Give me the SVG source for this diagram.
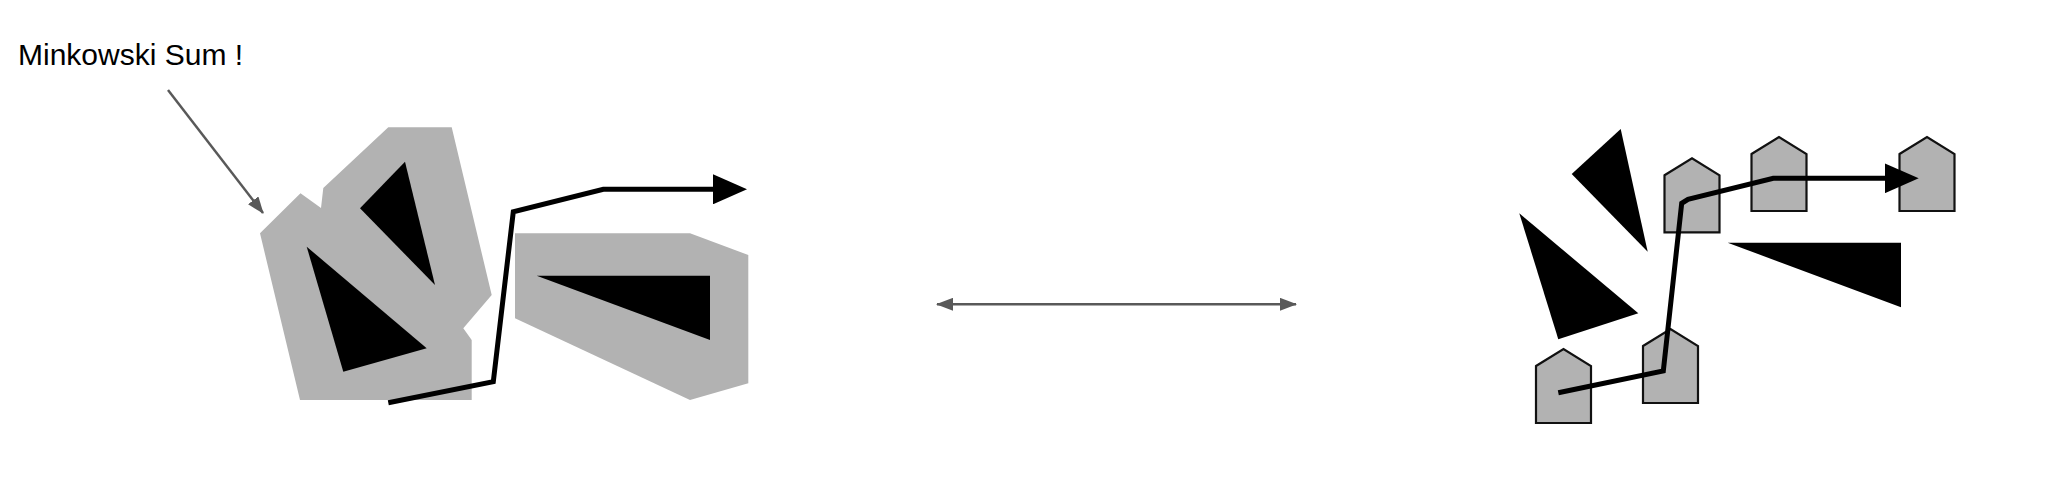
<svg xmlns="http://www.w3.org/2000/svg" width="2060" height="492" viewBox="0 0 2060 492">
<style>
.cs{fill:#b2b2b2;stroke:none}
.ob{fill:#000;stroke:none}
.house{fill:#b2b2b2;stroke:#111;stroke-width:2.2}
.path{fill:none;stroke:#000;stroke-width:5;stroke-linejoin:miter}
.conn{fill:none;stroke:#595959;stroke-width:2.5}
.lbl{font-family:"Liberation Sans",Arial,sans-serif;font-size:30px;fill:#000}
</style>
<defs>
<marker id="ga" markerUnits="userSpaceOnUse" markerWidth="17" markerHeight="13" viewBox="0 0 17 13" refX="16" refY="6.5" orient="auto-start-reverse">
<path d="M0,0 L17,6.5 L0,13 Z" fill="#595959"/>
</marker>
<marker id="ba" markerUnits="userSpaceOnUse" markerWidth="34" markerHeight="30" viewBox="0 0 34 30" refX="2" refY="15" orient="auto">
<path d="M0,0 L34,15 L0,30 Z" fill="#000"/>
</marker>
<polygon id="hs" points="0,17 27.5,0 55,17 55,74 0,74"/>
</defs>

<g id="label">
<text class="lbl" x="18" y="65">Minkowski Sum !</text>
</g>

<g id="left-cspace">
<polygon class="cs" points="388.3,127.3 451.7,127.3 491.7,295 463.3,328.3 471.7,340 471.7,400 300,400 260,233.3 300.5,193.3 321,208 323.3,188"/>
<polygon class="cs" points="515,233.3 690,233.3 748.3,255 748.3,383.3 690,400 515,318.3"/>
<polygon class="ob" points="405,161.7 360,208.3 435,285"/>
<polygon class="ob" points="306.7,246.7 343.3,371.7 426.7,348.3"/>
<polygon class="ob" points="536.7,275.7 710,275.7 710,340"/>
<polyline class="path" points="388.3,402.7 493.3,381.7 513.3,211.7 603.3,189.3 715,189.3" marker-end="url(#ba)"/>
</g>

<g id="right-workspace">
<polygon class="ob" points="1620.7,129 1571.7,174 1647.7,251.7"/>
<polygon class="ob" points="1519.3,213.3 1558.3,339.3 1638.3,313.3"/>
<polygon class="ob" points="1727.7,242.7 1901,242.7 1901,307.3"/>
<use href="#hs" class="house" x="1536" y="349"/>
<use href="#hs" class="house" x="1643" y="329"/>
<use href="#hs" class="house" x="1664.5" y="158.3"/>
<use href="#hs" class="house" x="1751.5" y="137"/>
<use href="#hs" class="house" x="1899.5" y="137"/>
<polyline class="path" points="1558.3,392.7 1663.3,371 1681.7,203.3 1688,199.3 1773.3,178.3 1886.7,178.3" marker-end="url(#ba)"/>
</g>

<g id="connectors">
<line class="conn" x1="168" y1="90" x2="263" y2="213" marker-end="url(#ga)"/>
<line class="conn" x1="937" y1="304.3" x2="1296" y2="304.3" marker-start="url(#ga)" marker-end="url(#ga)"/>
</g>
</svg>
